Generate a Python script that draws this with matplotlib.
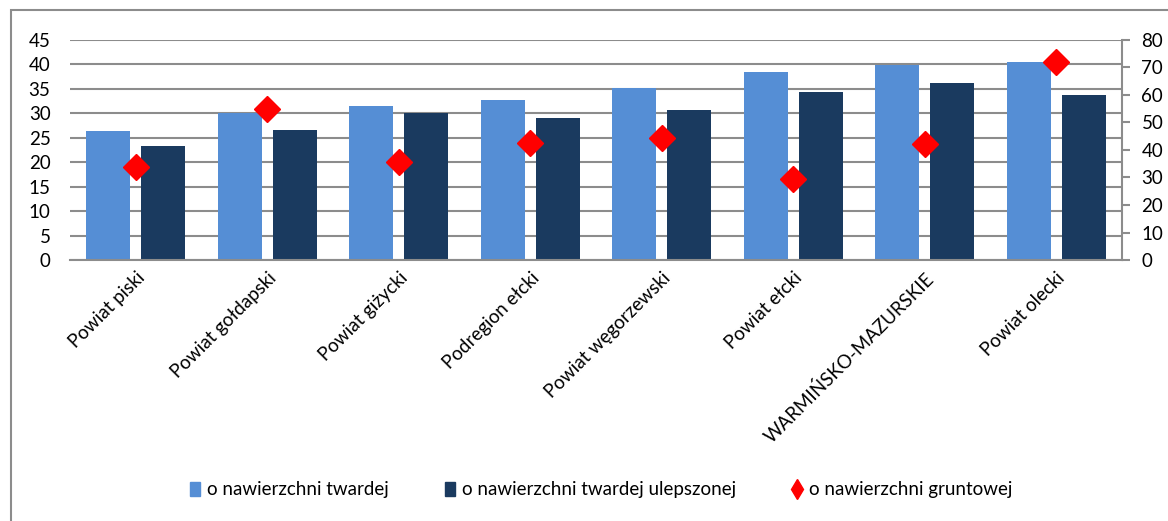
import matplotlib
matplotlib.use("Agg")
import matplotlib.pyplot as plt
import numpy as np
from matplotlib.patches import Rectangle
from matplotlib.lines import Line2D

plt.rcParams["font.family"] = ["Lato", "DejaVu Sans"]

categories = [
    "Powiat piski",
    "Powiat gołdapski",
    "Powiat giżycki",
    "Podregion ełcki",
    "Powiat węgorzewski",
    "Powiat ełcki",
    "WARMIŃSKO-MAZURSKIE",
    "Powiat olecki",
]
twarda = [26.4, 30.0, 31.5, 32.7, 35.2, 38.4, 39.9, 40.6]
ulepszona = [23.3, 26.5, 30.0, 29.0, 30.6, 34.4, 36.3, 33.7]
gruntowa = [33.9, 55.0, 35.5, 42.4, 44.2, 29.6, 42.3, 72.0]
series_names = [
    "o nawierzchni twardej",
    "o nawierzchni twardej ulepszonej",
    "o nawierzchni gruntowej",
]

c_light = "#558ED5"
c_dark = "#1A3A5F"
c_red = "#FF0000"
c_grid = "#8C8C8C"
fs = 13.5

W, H = 1168, 521
fig = plt.figure(figsize=(W / 100, H / 100), dpi=100)
ax = fig.add_axes([70 / W, 1 - 260 / H, 1052 / W, 220 / H])

x = np.arange(len(categories))
bw = 0.334
gap = 0.084
ax.bar(x - (bw + gap) / 2, twarda, bw, color=c_light, zorder=2)
ax.bar(x + (bw + gap) / 2, ulepszona, bw, color=c_dark, zorder=2)

ax.set_xlim(-0.5, len(categories) - 0.5)
ax.set_ylim(0, 45)
ax.set_yticks(np.arange(0, 46, 5))
ax.yaxis.grid(True, color=c_grid, linewidth=1.5, zorder=0)
ax.set_axisbelow(True)
for s in ["top", "left", "right"]:
    ax.spines[s].set_visible(False)
ax.spines["bottom"].set_color(c_grid)
ax.spines["bottom"].set_linewidth(1.5)
ax.tick_params(axis="y", length=0, labelsize=fs, pad=14)
ax.tick_params(axis="x", length=0)
ax.set_xticks(x)
ax.set_xticklabels(categories, rotation=45, ha="right", rotation_mode="anchor",
                   fontsize=fs)
for lbl in ax.get_xticklabels():
    lbl.set_y(-0.02)

ax2 = ax.twinx()
ax2.plot(x, gruntowa, linestyle="none", marker="D", markersize=13.5,
         color=c_red, zorder=3)
ax2.set_ylim(0, 80)
ax2.set_yticks(np.arange(0, 81, 10))
for s in ["top", "left", "bottom"]:
    ax2.spines[s].set_visible(False)
ax2.spines["right"].set_color(c_grid)
ax2.spines["right"].set_linewidth(1.5)
ax2.tick_params(axis="y", length=6, width=1.5, color=c_grid, labelsize=fs, pad=8)

handles = [
    Rectangle((0, 0), 1, 1, color=c_light),
    Rectangle((0, 0), 1, 1, color=c_dark),
    Line2D([], [], linestyle="none", marker="d", color=c_red, markersize=10),
]
fig.legend(handles, series_names, loc="center", bbox_to_anchor=(0.515, 1 - 490 / H),
           ncol=3, frameon=False, fontsize=fs, handlelength=0.5, handleheight=0.8,
           handletextpad=0.4, columnspacing=3.0)

fig.add_artist(Rectangle((11 / W, -0.1), 1.2, 1 - 10 / H + 0.1,
                         transform=fig.transFigure, fill=False,
                         edgecolor="#8C8C8C", linewidth=1.5))

fig.savefig("out.png", dpi=100)
